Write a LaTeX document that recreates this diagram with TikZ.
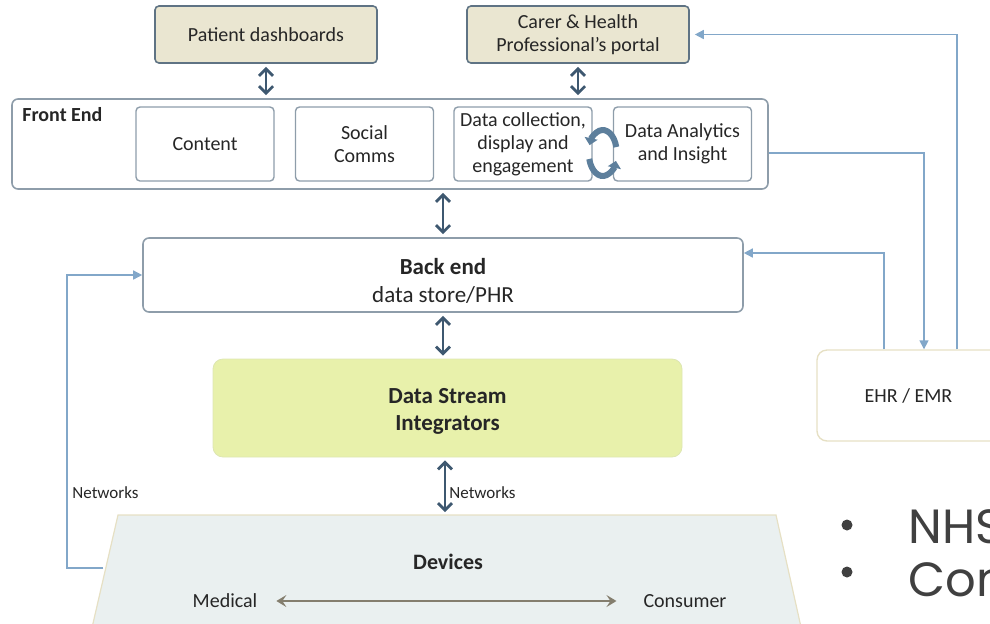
\documentclass[tikz,border=0pt]{standalone}
\usepackage{fontspec}
\setmainfont{Carlito}
\newfontfamily\slidefont{Poppins}
\usetikzlibrary{calc,arrows.meta}

\definecolor{tanfill}{HTML}{EAE6D1}
\definecolor{slateline}{HTML}{5F7384}
\definecolor{boxline}{HTML}{8E9DAA}
\definecolor{darkarrow}{HTML}{3E5870}
\definecolor{linkblue}{HTML}{82A7C9}
\definecolor{dsifill}{HTML}{E8F1AB}
\definecolor{dsiline}{HTML}{DDE6B2}
\definecolor{devfill}{HTML}{EAF0F0}
\definecolor{beigeline}{HTML}{E6E0C4}
\definecolor{devarrow}{HTML}{847E6E}
\definecolor{cycblue}{HTML}{5D7F9C}
\definecolor{inktext}{HTML}{262626}
\definecolor{slidegray}{HTML}{404040}

\begin{document}
\begin{tikzpicture}[x=0.5pt,y=-0.5pt,font=\fontsize{10}{11.5}\selectfont,text=inktext]
\tikzset{topbox/.style = {draw=slateline, fill=tanfill, rounded corners=2pt, line width=0.8pt, minimum width=111pt, minimum height=28.5pt, align=center, inner sep=1pt},
  subbox/.style = {draw=boxline, rounded corners=2pt, line width=0.7pt, minimum width=69pt, minimum height=37pt, align=center, inner sep=1pt},
  frame/.style = {draw=boxline, rounded corners=3pt, line width=0.8pt},
  twoway/.style = {draw=darkarrow, line width=1pt, {Straight Barb[length=3.5pt,width=7pt,line width=1.4pt]}-{Straight Barb[length=3.5pt,width=7pt,line width=1.4pt]}, shorten <=1.5pt, shorten >=1.5pt},
  link/.style = {draw=linkblue, line width=0.75pt, -{Triangle[length=4.5pt,width=4.5pt]}},
  cycle arrow/.style = {draw=cycblue, line width=3pt, -{Triangle[length=3.5pt,width=6.5pt]}},
  lbl/.style = {anchor=west, inner sep=0pt, font=\fontsize{8.5}{10}\selectfont}}

\useasboundingbox (0,0) rectangle (990,623);

% devices base
\fill[devfill, draw=beigeline, line width=0.6pt] (118,515) coordinate (devNW) -- (776,515) coordinate (devNE) -- (805,645) -- (88,645) -- cycle;
\coordinate (devN) at (445,515);
\coordinate (devW) at ($(devNW)!0.49!(88,623)$);

% top row
\node[topbox] (pat) at (266,34.5) {Patient dashboards};
\node[topbox] (carer) at (578,34.5) {Carer \& Health\\Professional’s portal};

% front end
\node[frame, minimum width=378pt, minimum height=45pt] (front) at (390,144) {};
\node[anchor=base west, inner sep=0pt, font=\fontsize{10}{12}\bfseries] (frontlbl) at (22,121) {Front End};
\node[subbox] (content) at (205,144) {Content};
\node[subbox] (social) at (364.5,144) {Social\\Comms};
\node[subbox] (collect) at (523,144) {Data collection,\\display and\\engagement};
\node[subbox] (analytics) at (682.5,144) {Data Analytics\\and Insight};

\coordinate (cyc) at ($(collect.east)!0.5!(analytics.west)+(0,9)$);
\draw[cycle arrow] (cyc) ++(15:7pt and 11.5pt) arc[start angle=15, end angle=160, x radius=7pt, y radius=11.5pt];
\draw[cycle arrow] (cyc) ++(195:7pt and 11.5pt) arc[start angle=195, end angle=340, x radius=7pt, y radius=11.5pt];

% back end and integrators
\node[frame, minimum width=300pt, minimum height=37pt] (backend) at (443,275) {};
\node[align=center, font=\fontsize{11.5}{14}\selectfont] (backtxt) at ($(backend.center)+(0,6)$) {\textbf{Back end}\\data store/PHR};
\node[draw=dsiline, fill=dsifill, rounded corners=5pt, minimum width=234.5pt, minimum height=49pt] (dsi) at (447.5,408) {};
\node[align=center, font=\fontsize{11.5}{13.5}\bfseries] (dsitxt) at ($(dsi.center)+(0,3)$) {Data Stream\\Integrators};
\node[draw=beigeline, line width=0.7pt, rounded corners=5pt, minimum width=91.5pt, minimum height=45.5pt] (ehr) at (908.5,395.5) {EHR / EMR};

% devices
\node[font=\fontsize{11}{13}\bfseries] (dev) at (448,562) {Devices};
\node (med) at (225,601) {Medical};
\node (cons) at (685,601) {Consumer};
\draw[devarrow, line width=0.9pt, {Stealth[length=5pt,width=6pt,inset=2pt]}-{Stealth[length=5pt,width=6pt,inset=2pt]}, shorten <=6pt, shorten >=10pt] (med) -- (cons);

% vertical links
\draw[twoway] (pat.south) -- (pat.south |- front.north);
\draw[twoway] (carer.south) -- (carer.south |- front.north);
\draw[twoway] (backend.north |- front.south) -- (backend.north);
\draw[twoway] (backend.south) -- (backend.south |- dsi.north);
\draw[twoway] (dsi.south -| devN) -- (devN);
\node[lbl] (netR) at (449,493) {Networks};

% feedback lines
\draw[link] (devW) -| ($(backend.west)+(-75,0)$) -- (backend.west);
\node[lbl] (netL) at (72,493) {Networks};
\draw[link] ($(front.east)+(0,9)$) -| ($(ehr.north)+(15.5,0)$);
\draw[link] ($(ehr.north)+(-24.5,0)$) |- ($(backend.east)+(0,-22)$);
\draw[link, shorten >=2.5pt] ($(ehr.north)+(48.5,0)$) |- (carer.east);

% slide text
\node[circle, fill=slidegray, inner sep=0pt, minimum size=5.5pt] (bul1) at (847,525) {};
\node[circle, fill=slidegray, inner sep=0pt, minimum size=5.5pt] (bul2) at (847,572) {};
\node[anchor=west, inner sep=0pt, text=slidegray, font=\slidefont\fontsize{24}{28}\selectfont] (nhs) at (908,527) {NHS};
\node[anchor=west, inner sep=0pt, text=slidegray, font=\slidefont\fontsize{24}{28}\selectfont] (con) at (908,580) {Con};
\end{tikzpicture}
\end{document}
